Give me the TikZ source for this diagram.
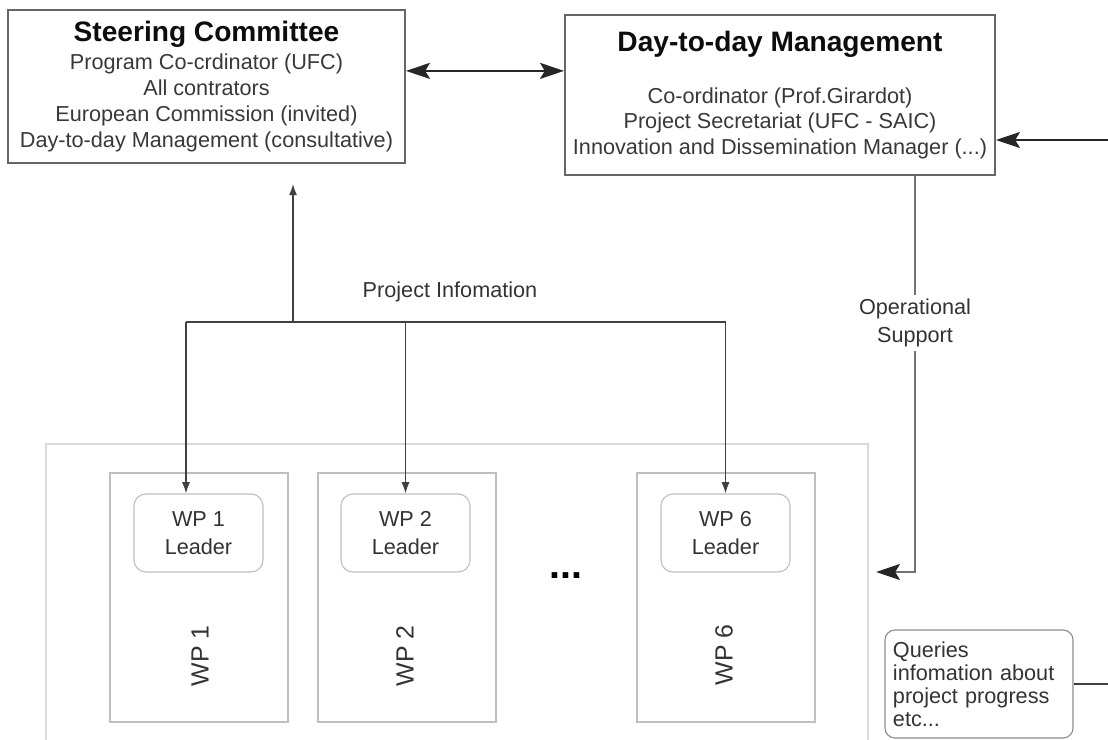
\documentclass[tikz,border=0pt]{standalone}
\usepackage{fontspec}
\setmainfont{Liberation Sans}
\usetikzlibrary{arrows.meta,positioning,calc}

\newcommand{\titlefont}{\fontsize{20}{22}\selectfont\bfseries\color{black!95}}
\tikzset{
  mainbox/.style={draw=black!60, line width=1.3pt, align=center, text=black!78,
    font=\fontsize{15.4}{18.4}\selectfont},
  wpbox/.style={draw=black!25, line width=0.8pt, minimum width=4.45cm, minimum height=6.225cm},
  leaderbox/.style={draw=black!25, line width=0.8pt, rounded corners=0.3cm, align=center,
    minimum width=3.225cm, minimum height=1.95cm, text=black!80,
    font=\fontsize{15.4}{19.8}\selectfont},
  wplabel/.style={rotate=90, text=black!80, font=\fontsize{17.7}{20}\selectfont},
  querybox/.style={draw=black!45, line width=0.8pt, rounded corners=0.25cm, align=left,
    text width=4.3cm, inner xsep=0.2cm, minimum height=2.7cm, text=black!80,
    font=\fontsize{15.4}{16.3}\selectfont},
  labeltext/.style={align=center, text=black!80, font=\fontsize{15.4}{19.8}\selectfont},
  framebox/.style={draw=black!15, line width=0.8pt},
  link/.style={draw=black!75, line width=0.9pt},
  smalltip/.style={link, -{Latex[length=0.28cm,width=0.2cm]}},
  bigline/.style={draw=black!85, line width=1.4pt},
  bigtip/.style={bigline, -{Stealth[length=0.6cm,width=0.4cm,inset=0.12cm]}},
  bigboth/.style={bigline, {Stealth[length=0.6cm,width=0.4cm,inset=0.12cm]}-{Stealth[length=0.6cm,width=0.4cm,inset=0.12cm]}},
  oplink/.style={draw=black!55, line width=1.2pt, -{Stealth[length=0.6cm,width=0.4cm,inset=0.12cm,color=black!85]}}
}

\begin{document}
\begin{tikzpicture}[x=0.025cm, y=-0.025cm]
  \useasboundingbox (0,0) rectangle (1108,740);

  % management boxes
  \node[mainbox, minimum width=9.925cm, minimum height=3.825cm] (sc) at (206.5,86.5)
    {\titlefont Steering Committee\\[0.05cm]
     Program Co-crdinator (UFC)\\ All contrators\\ European Commission (invited)\\
     Day-to-day Management (consultative)};
  \node[mainbox, minimum width=10.75cm, minimum height=4cm] (dm) at (780,95)
    {\titlefont Day-to-day Management\\[0.65cm]
     Co-ordinator (Prof.Girardot)\\ Project Secretariat (UFC - SAIC)\\
     Innovation and Dissemination Manager (...)};

  % links between the two boards
  \coordinate (scport) at ([yshift=0.39cm]sc.east);
  \draw[bigboth] (scport) -- (scport -| dm.west);
  \coordinate (rin) at (1108,140);
  \draw[bigtip] (rin) -- (rin -| dm.east);

  % work packages
  \coordinate (frameNE) at (868,444);
  \draw[framebox] (46,740) |- (frameNE) -- (868,740);
  \node[wpbox] (wp1) at (199,597.5) {};
  \node[wpbox] (wp2) at (407,597.5) {};
  \node[wpbox] (wp6) at (726,597.5) {};
  \node[leaderbox] (l1) at (198.5,533) {WP 1\\Leader};
  \node[leaderbox] (l2) at (405.5,533) {WP 2\\Leader};
  \node[leaderbox] (l6) at (725.5,533) {WP 6\\Leader};
  \node[wplabel] (wp1name) at (200,656) {WP 1};
  \node[wplabel] (wp2name) at (405,656) {WP 2};
  \node[wplabel] (wp6name) at (724,655) {WP 6};
  \node[font=\fontsize{28}{30}\selectfont\bfseries] (dots) at (566,576) {...};

  % project information flow
  \coordinate (pi1) at (186,322);
  \coordinate (piup) at (293,322);
  \draw[link] (pi1) -- (l6.north |- pi1);
  \draw[smalltip] (pi1) -- (pi1 |- l1.north);
  \draw[smalltip] (l2.north |- pi1) -- (l2.north);
  \draw[smalltip] (l6.north |- pi1) -- (l6.north);
  \draw[smalltip, shorten >=0.5cm] (piup) -- (piup |- sc.south);
  \node[labeltext] (pinfo) at (450,292) {Project Infomation};

  % operational support
  \coordinate (opturn) at (915,572);
  \draw[oplink, shorten >=0.2cm] (dm.south -| opturn) -- (opturn) -- (opturn -| frameNE);
  \node[labeltext, fill=white, inner ysep=3pt] (opsup) at (915,323) {Operational\\Support};

  % queries
  \node[querybox] (q) at (979,684) {Queries\\ infomation about\\ project progress\\ etc...};
  \coordinate (qout) at (1108,684);
  \draw[link] (q.east) -- (qout);
\end{tikzpicture}
\end{document}
